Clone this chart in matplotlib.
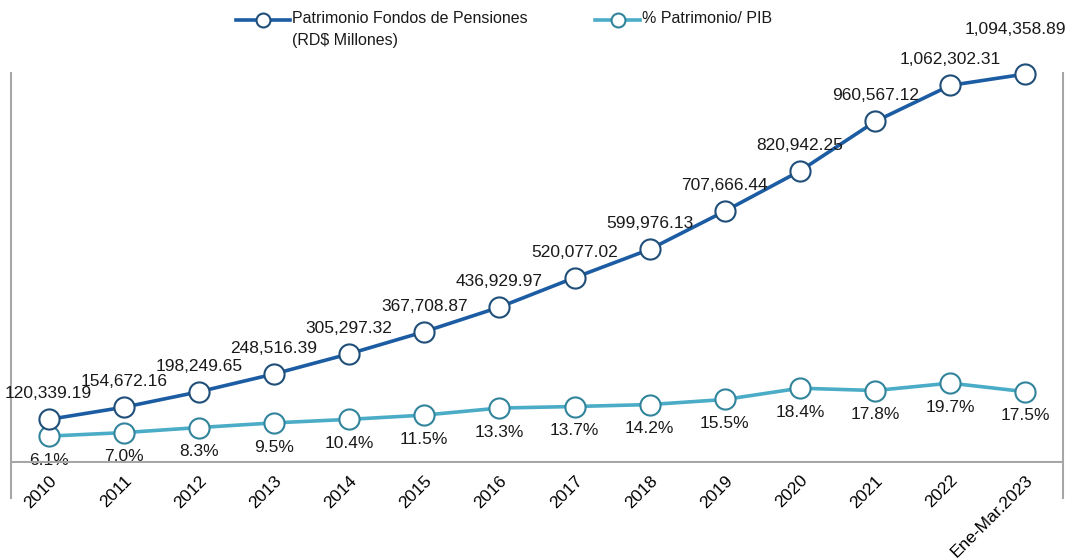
import matplotlib.pyplot as plt
from matplotlib.lines import Line2D

plt.rcParams['font.family'] = ['Liberation Sans', 'DejaVu Sans']

categories = ["2010", "2011", "2012", "2013", "2014", "2015", "2016", "2017",
              "2018", "2019", "2020", "2021", "2022", "Ene-Mar.2023"]
patrimonio = [120339.19, 154672.16, 198249.65, 248516.39, 305297.32, 367708.87,
              436929.97, 520077.02, 599976.13, 707666.44, 820942.25, 960567.12,
              1062302.31, 1094358.89]
pct_pib = [6.1, 7.0, 8.3, 9.5, 10.4, 11.5, 13.3, 13.7, 14.2, 15.5, 18.4, 17.8,
           19.7, 17.5]
series_names = ["Patrimonio Fondos de Pensiones\n(RD$ Millones)", "% Patrimonio/ PIB"]

dark = "#1b5ca3"
dark_edge = "#1f4e79"
light = "#4aacc6"
light_edge = "#31849b"
grey = "#a6a6a6"

W, H = 1067, 559
fig = plt.figure(figsize=(W / 100, H / 100), dpi=100)
ax = fig.add_axes([11 / W, 96 / H, 1052 / W, 390 / H])
ax2 = ax.twinx()

x = list(range(len(categories)))
ax.plot(x, patrimonio, color=dark, lw=2.6, marker="o", ms=14.5,
        mfc="white", mec=dark_edge, mew=1.5, zorder=3, clip_on=False)
ax2.plot(x, pct_pib, color=light, lw=2.6, marker="o", ms=14.5,
         mfc="white", mec=light_edge, mew=1.5, zorder=3, clip_on=False)

ax.set_xlim(-0.5, len(categories) - 0.5)
ax.set_ylim(-2500, 1.0972e6)
ax2.set_ylim(-0.8, 99.3)
ax.set_zorder(ax2.get_zorder() + 1)
ax.patch.set_visible(False)

for a in (ax, ax2):
    a.set_yticks([])
    for s in a.spines.values():
        s.set_visible(False)
ax.axhline(0, color=grey, lw=1.5, zorder=1)
# side borders run a little below the category axis
for xa in (0, 1):
    ax.plot([xa, xa], [-0.09, 1], transform=ax.transAxes, color=grey,
            lw=1.5, clip_on=False)

ax.set_xticks(x)
ax.set_xticklabels(categories, rotation=45, ha="right", rotation_mode="anchor",
                   fontsize=12.5)
ax.tick_params(axis="x", length=0, pad=7)

for xi, v in zip(x, patrimonio):
    dx, dy = 0, 13
    if xi == len(x) - 1:
        dx, dy = -7, 27
    ax.annotate(f"{v:,.2f}", (xi, v), xytext=(dx, dy), textcoords="offset points",
                ha="center", va="bottom", fontsize=12.5, color="#1a1a1a")
for xi, v in zip(x, pct_pib):
    ax2.annotate(f"{v:.1f}%", (xi, v), xytext=(0, -12), textcoords="offset points",
                 ha="center", va="top", fontsize=12.5, color="#1a1a1a")

# legend drawn by hand: handle sits on the first line of a two-line label
legend_items = [(236, 290, dark, dark_edge, series_names[0]),
                (595, 640, light, light_edge, series_names[1])]
ly = 1 - 20 / H
for x0, x1, c, ec, name in legend_items:
    fig.add_artist(Line2D([x0 / W, x1 / W], [ly, ly], color=c, lw=2.6))
    fig.add_artist(Line2D([(x0 + x1) / 2 / W], [ly], marker="o", ms=10,
                          mfc="white", mec=ec, mew=1.5, ls="none"))
    fig.text((x1 + 2) / W, 1 - 11 / H, name, ha="left", va="top", fontsize=11.5,
             linespacing=1.55, color="#1a1a1a")

fig.savefig("out.png", dpi=100)
